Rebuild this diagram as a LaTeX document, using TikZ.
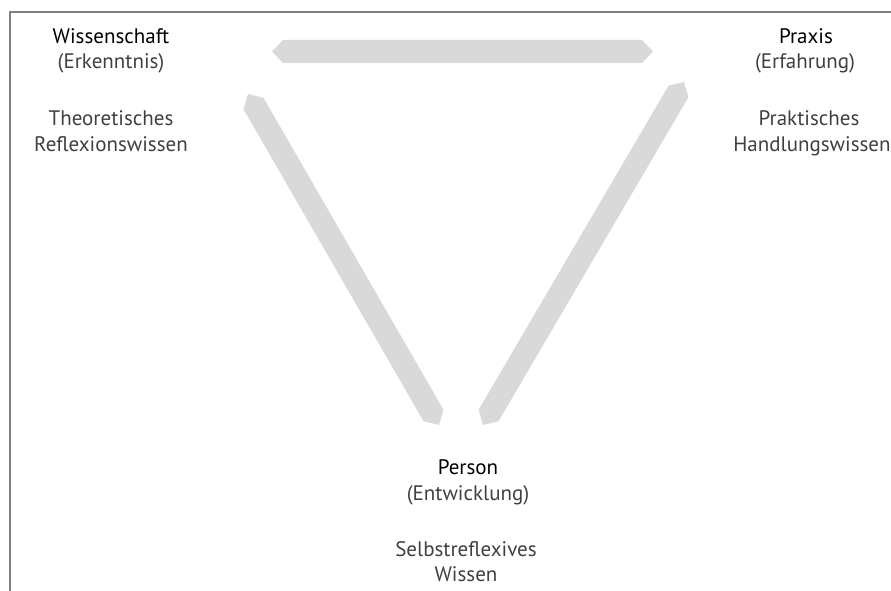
\documentclass[tikz,border=0pt]{standalone}
\usepackage{fontspec}
\setmainfont{PT Sans}
\usetikzlibrary{calc}
\definecolor{bargray}{HTML}{D9D9D9}
\definecolor{txtgray}{HTML}{404040}
\definecolor{framegray}{HTML}{808080}
\tikzset{
  bar/.style={fill=bargray, draw=none},
  ttl/.style={font=\fontsize{21}{25}\selectfont, text=black, anchor=base, inner sep=0pt},
  sub/.style={font=\fontsize{21}{25}\selectfont, text=txtgray, anchor=base, inner sep=0pt},
  frameline/.style={draw=framegray, line width=2pt},
}
\newcommand\grayarrow[2]{%
  \fill[bar] (#1) -- ($(#1)!11pt!(#2)!11.5pt!90:(#2)$) -- ($(#2)!11pt!(#1)!11.5pt!-90:(#1)$)
    -- (#2) -- ($(#2)!11pt!(#1)!11.5pt!90:(#1)$) -- ($(#1)!11pt!(#2)!11.5pt!-90:(#2)$) -- cycle;}
\begin{document}
\begin{tikzpicture}[x=1pt,y=-1pt]
\useasboundingbox (0,0) rectangle (891,591);
\draw[frameline] (10,591) -- (10,12.5) -- (891,12.5);
% texts
\node[ttl] (w1) at (111,43.3) {Wissenschaft};
\node[sub] (w2) at (111,68.3) {(Erkenntnis)};
\node[sub] (w3) at (111,126) {Theoretisches};
\node[sub] (w4) at (111,151) {Reflexionswissen};
\node[ttl] (p1) at (806,43.3) {Praxis};
\node[sub] (p2) at (805,68.3) {(Erfahrung)};
\node[sub] (p3) at (809,126) {Praktisches};
\node[sub] (p4) at (812,151.5) {Handlungswissen};
\node[ttl] (e1) at (468,474) {Person};
\node[sub] (e2) at (468,500.5) {(Entwicklung)};
\node[sub] (e3) at (466,556) {Selbstreflexives};
\node[sub] (e4) at (466,581.5) {Wissen};
% arrow ends
\coordinate (ta) at (272,51.5);
\coordinate (tb) at (653,51.5);
\coordinate (la) at (248,94);
\coordinate (lb) at (439,425);
\coordinate (ra) at (684,82);
\coordinate (rb) at (483,425);
\grayarrow{ta}{tb}
\grayarrow{la}{lb}
\grayarrow{ra}{rb}
\end{tikzpicture}
\end{document}
